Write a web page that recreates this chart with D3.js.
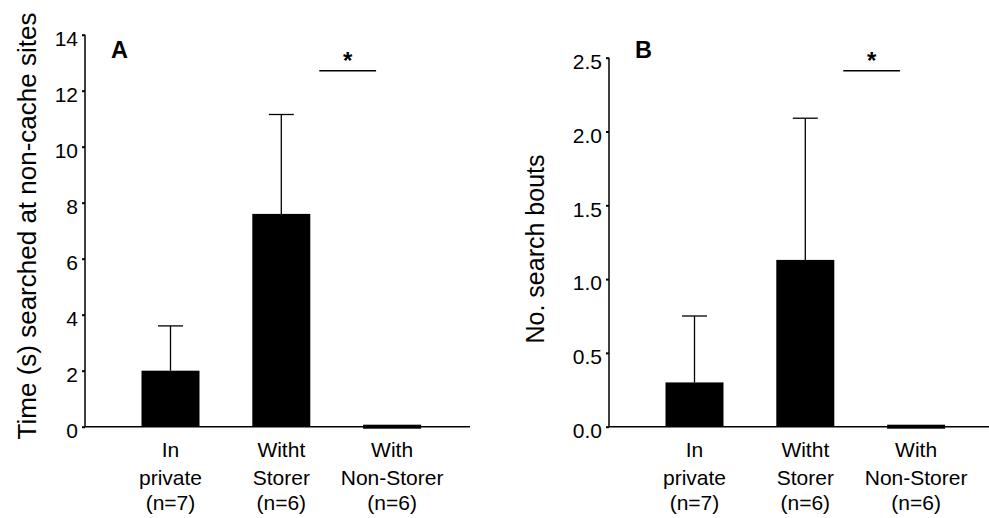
<!DOCTYPE html>
<html>
<head>
<meta charset="utf-8">
<script src="https://cdn.jsdelivr.net/npm/d3@7"></script>
<style>
  body { margin: 0; background: #fff; }
  svg { font-family: "Liberation Sans", Arial, sans-serif; }
</style>
</head>
<body>
<div id="container"></div>
<script>
// data
let categories = ["In|private|(n=7)", "Witht|Storer|(n=6)", "With|Non-Storer|(n=6)"];
let timeMeans = [2.0, 7.6, 0.05];
let timeErr = [3.6, 11.15, null];
let boutMeans = [0.30, 1.13, 0.01];
let boutErr = [0.75, 2.09, null];
let timeTicks = [0, 2, 4, 6, 8, 10, 12, 14];
let boutTicks = [0, 0.5, 1.0, 1.5, 2.0, 2.5];

let w = 989;
let h = 518;

let viz = d3.select("#container")
    .append("svg")
    .attr("width", w)
    .attr("height", h);

function drawPanel(opts) {
    let g = viz.append("g");

    let yScale = d3.scaleLinear().domain(opts.domain).range([426.7, opts.yTop]);
    // bar centres sit at fixed offsets from the axis
    let xScale = d3.scalePoint()
        .domain(categories)
        .range([opts.axisX + 85.5, opts.axisX + 85.5 + 2 * 110.8]);
    let barW = 58;

    // y axis
    let yAxis = d3.axisLeft(yScale)
        .tickValues(opts.ticks)
        .tickFormat(opts.fmt)
        .tickSize(3)
        .tickPadding(4);
    let yAxisGroup = g.append("g")
        .attr("transform", "translate(" + opts.axisX + ",0)")
        .call(yAxis);
    yAxisGroup.select(".domain").remove();
    yAxisGroup.selectAll("line").attr("stroke", "#000").attr("stroke-width", 2);
    yAxisGroup.selectAll("text")
        .attr("font-size", 21)
        .attr("y", 4)
        .attr("fill", "#000")
        .style("font-family", "Liberation Sans, Arial, sans-serif");

    g.append("line")
        .attr("x1", opts.axisX).attr("x2", opts.axisX)
        .attr("y1", yScale(opts.domain[1])).attr("y2", yScale(0))
        .attr("stroke", "#000").attr("stroke-width", 1.5);
    g.append("line")
        .attr("x1", opts.axisX).attr("x2", opts.axisEnd)
        .attr("y1", yScale(0)).attr("y2", yScale(0))
        .attr("stroke", "#000").attr("stroke-width", 1.5);

    // bars
    g.selectAll(".bar")
        .data(opts.means)
        .enter()
        .append("rect")
        .attr("class", "bar")
        .attr("x", (d, i) => xScale(categories[i]) - barW / 2)
        .attr("width", barW)
        .attr("y", d => Math.min(yScale(d), yScale(0) - 2))
        .attr("height", d => Math.max(yScale(0) - yScale(d), 4))
        .attr("fill", "#000");

    // error bars (upper only)
    let errs = opts.errs.map((e, i) => ({e: e, m: opts.means[i], c: categories[i]})).filter(d => d.e != null);
    g.selectAll(".err")
        .data(errs)
        .enter()
        .append("line")
        .attr("x1", d => xScale(d.c)).attr("x2", d => xScale(d.c))
        .attr("y1", d => yScale(d.m)).attr("y2", d => yScale(d.e))
        .attr("stroke", "#000").attr("stroke-width", 1.3);
    g.selectAll(".cap")
        .data(errs)
        .enter()
        .append("line")
        .attr("x1", d => xScale(d.c) - 12.5).attr("x2", d => xScale(d.c) + 12.5)
        .attr("y1", d => yScale(d.e)).attr("y2", d => yScale(d.e))
        .attr("stroke", "#000").attr("stroke-width", 1.3);

    // category labels
    let lineY = [457, 484.5, 510];
    categories.forEach(function(c) {
        let t = g.append("text")
            .attr("text-anchor", "middle")
            .attr("font-size", 21)
            .attr("x", xScale(c));
        c.split("|").forEach(function(line, k) {
            t.append("tspan")
                .attr("x", xScale(c))
                .attr("y", lineY[k])
                .text(line);
        });
    });

    // significance bar
    let sx1 = xScale(categories[1]) + barW / 2 + 9;
    let sx2 = xScale(categories[2]) - barW / 2 + 13;
    g.append("line")
        .attr("x1", sx1).attr("x2", sx2)
        .attr("y1", 70.7).attr("y2", 70.7)
        .attr("stroke", "#000").attr("stroke-width", 1.5);
    g.append("text")
        .attr("x", (sx1 + sx2) / 2)
        .attr("y", 69)
        .attr("text-anchor", "middle")
        .attr("font-size", 24)
        .attr("font-weight", "bold")
        .text("*");

    // panel letter
    g.append("text")
        .attr("x", opts.letterX)
        .attr("y", 57.5)
        .attr("font-size", 23.5)
        .attr("font-weight", "bold")
        .text(opts.letter);

    // y title
    g.append("text")
        .attr("transform", "translate(" + opts.titleX + "," + opts.titleY + ") rotate(-90)")
        .attr("text-anchor", "middle")
        .attr("font-size", opts.titleSize)
        .text(opts.title);
}

drawPanel({
    axisX: 85, axisEnd: 470, yTop: 34.7, domain: [0, 14],
    ticks: timeTicks, fmt: d3.format("d"),
    means: timeMeans, errs: timeErr,
    letter: "A", letterX: 111, title: "Time (s) searched at non-cache sites",
    titleX: 36, titleY: 226, titleSize: 26
});

drawPanel({
    axisX: 609, axisEnd: 989, yTop: 57.7, domain: [0, 2.5],
    ticks: boutTicks, fmt: d3.format(".1f"),
    means: boutMeans, errs: boutErr,
    letter: "B", letterX: 635, title: "No. search bouts",
    titleX: 544, titleY: 249, titleSize: 25
});
</script>
</body>
</html>
